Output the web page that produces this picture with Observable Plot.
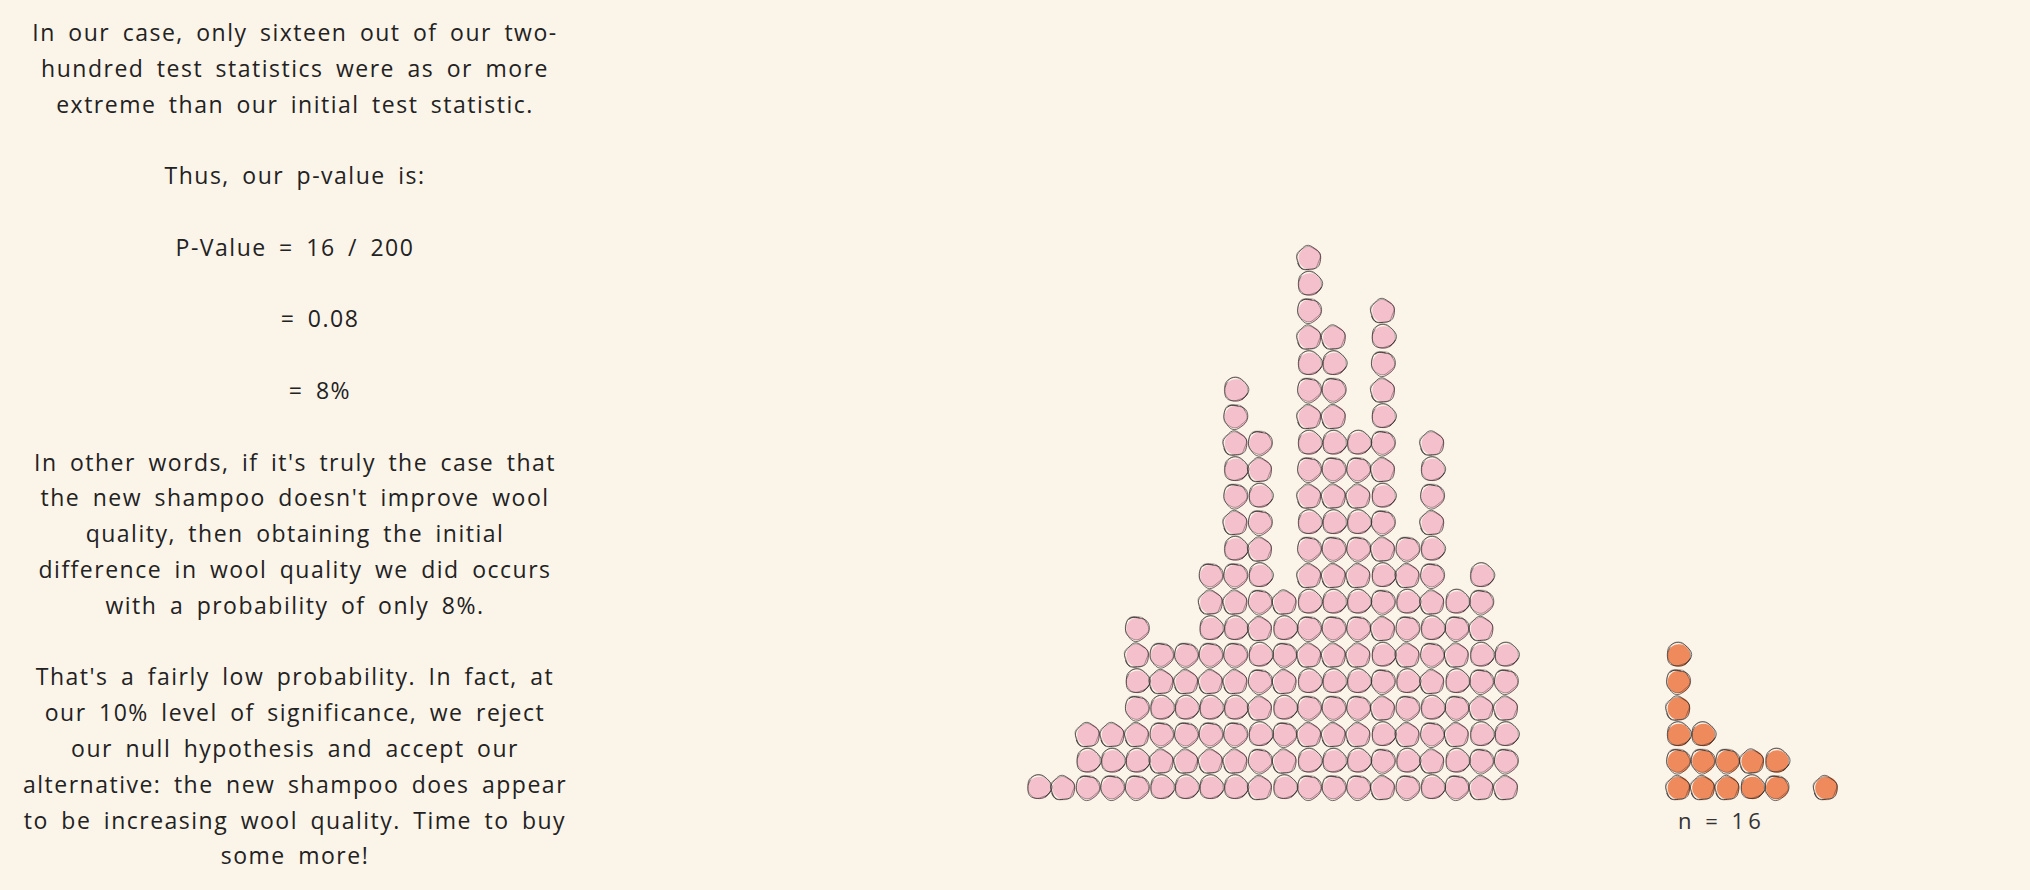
<!DOCTYPE html>
<html><head><meta charset="utf-8">
<script src="https://cdn.jsdelivr.net/npm/d3@7"></script>
<script src="https://cdn.jsdelivr.net/npm/@observablehq/plot@0.6"></script>
<style>
html,body{margin:0;padding:0;background:#fbf4e9;width:2030px;height:890px;overflow:hidden}
#chart{position:absolute;left:0;top:0}
#chart svg text{letter-spacing:4px}
#text{position:absolute;left:0;top:15px;width:590px;font-family:"Open Sans",sans-serif;font-size:23px;line-height:35.8px;color:#222;text-align:center;letter-spacing:1.5px;word-spacing:5px}
#text div{white-space:pre;height:35.8px}
#text div.shift{padding-left:50px}
</style></head><body>
<div id="chart"></div>
<div id="text"></div>
<script>
// ---- data ----
// bins of the simulated test statistics (null distribution) and how many dots stack in each
const nullBins   = [0,1,2,3,4,5,6,7,8,9,10,11,12,13,14,15,16,17,18,19];
const nullCounts = [1,1,3,3,7,6,6,9,16,14,8,21,18,14,19,10,14,8,9,6];
// bins of the statistics as or more extreme than the observed one
const extremeBins   = [26,27,28,29,30,32];
const extremeCounts = [6,3,2,2,2,1];
const groupNames  = ["null","extreme"];
const groupColors = ["#f4c0cb","#ee8a5b"];

const textLines = [
  "In our case, only sixteen out of our two-",
  "hundred test statistics were as or more",
  "extreme than our initial test statistic.",
  "",
  "Thus, our p-value is:",
  "",
  "P-Value = 16 / 200",
  "",
  "= 0.08",
  "",
  "= 8%",
  "",
  "In other words, if it's truly the case that",
  "the new shampoo doesn't improve wool",
  "quality, then obtaining the initial",
  "difference in wool quality we did occurs",
  "with a probability of only 8%.",
  "",
  "That's a fairly low probability. In fact, at",
  "our 10% level of significance, we reject",
  "our null hypothesis and accept our",
  "alternative: the new shampoo does appear",
  "to be increasing wool quality. Time to buy",
  "some more!"
];

// ---- text ----
const tbox = document.getElementById("text");
textLines.forEach(t => {
  const d = document.createElement("div");
  d.textContent = t;
  if (t.startsWith("= ")) d.className = "shift";
  tbox.appendChild(d);
});

// ---- hand-drawn looking outline symbols (style only) ----
function wobbly(a1, p1, a2, p2, ox, oy, turns) {
  return {
    draw(ctx, size) {
      const r = Math.sqrt(size / Math.PI);
      const n = 40, T = 2 * Math.PI * turns;
      for (let j = 0; j <= n; j++) {
        const t = (j / n) * T + p1;
        const rr = r * (1 + a1 * Math.sin(3 * t + p2) + a2 * Math.cos(5 * t + p1) + 0.03 * (j / n));
        const x = ox + rr * Math.cos(t), y = oy + rr * Math.sin(t);
        if (j === 0) ctx.moveTo(x, y); else ctx.lineTo(x, y);
      }
    }
  };
}
const symA = [wobbly(0.05,0.3,0.03,1.2,0.6,-0.5,1.12), wobbly(0.04,2.1,0.04,0.4,-0.4,0.6,1.1), wobbly(0.06,4.0,0.02,2.5,0.3,0.3,1.15)];
const symB = [wobbly(0.03,1.5,0.05,3.1,-0.8,0.7,1.05), wobbly(0.05,3.3,0.03,0.9,0.7,-0.8,1.08), wobbly(0.04,5.2,0.04,1.7,-0.3,-0.6,1.1)];

// ---- dots ----
const dots = [];
nullBins.forEach((b,i) => { for (let k=0;k<nullCounts[i];k++) dots.push({bin:b, level:k, group:"null"}); });
extremeBins.forEach((b,i) => { for (let k=0;k<extremeCounts[i];k++) dots.push({bin:b, level:k, group:"extreme"}); });
dots.forEach((d,i) => { d.s1 = symA[(i*7) % 3]; d.s2 = symB[(i*5 + 1) % 3]; });

const nLabel = [{bin: extremeBins[0], level: 0, label: `n = ${d3.sum(extremeCounts)}`}];

const chart = Plot.plot({
  width: 2030, height: 890, margin: 0,
  style: {background: "transparent", overflow: "visible"},
  x: {type: "linear", domain: [0, 32], range: [1038, 1825.2], axis: null},
  y: {type: "linear", domain: [0, 20], range: [787, 257], axis: null},
  color: {domain: groupNames, range: groupColors},
  marks: [
    Plot.dot(dots, {x: "bin", y: "level", r: 11.3, fill: "group", dx: 0.8, dy: 0.5}),
    Plot.dot(dots, {x: "bin", y: "level", r: 11.8, symbol: d => d.s1, stroke: "#221c1c", strokeWidth: 0.75, strokeOpacity: 0.85, fill: "none"}),
    Plot.dot(dots, {x: "bin", y: "level", r: 11.4, symbol: d => d.s2, stroke: "#221c1c", strokeWidth: 0.6, strokeOpacity: 0.6, fill: "none"}),
    Plot.text(nLabel, {x: "bin", y: "level", text: "label", dy: 34, textAnchor: "start", fontSize: 22, fill: "#333", fontFamily: "Open Sans"})
  ]
});
document.getElementById("chart").appendChild(chart);
</script>
</body></html>
